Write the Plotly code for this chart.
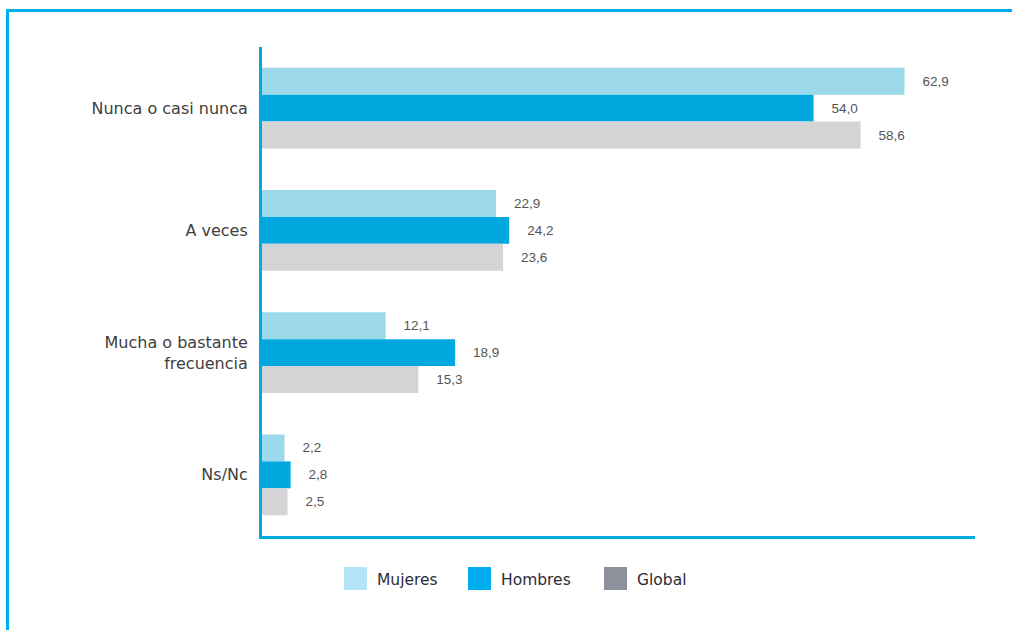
import plotly.graph_objects as go

categorias = ["Nunca o casi nunca", "A veces", "Mucha o bastante<br>frecuencia", "Ns/Nc"]
mujeres = [62.9, 22.9, 12.1, 2.2]
hombres = [54.0, 24.2, 18.9, 2.8]
globales = [58.6, 23.6, 15.3, 2.5]

series = ["Mujeres", "Hombres", "Global"]
colores_barra = ["#9bd8e9", "#00a8df", "#d4d4d6"]
colores_leyenda = ["#b5e3f7", "#00aeef", "#8e919c"]

W, H = 1019, 630
L, R, T, B = 262, 44, 47, 94


def px(x):
    return (x - L) / (W - L - R)


def py(y):
    return (H - B - y) / (H - T - B)


fig = go.Figure()
pad = "\u00a0" * 4
for nombre, valores, color in zip(series, [mujeres, hombres, globales], colores_barra):
    fig.add_trace(go.Bar(
        y=categorias, x=valores, name=nombre, orientation="h",
        marker=dict(color=color, line=dict(width=0)),
        texttemplate=pad + "%{x:.1f}", textposition="outside",
        textfont=dict(family="Arial", size=13.5, color="#555555"),
        cliponaxis=False, showlegend=False,
    ))

# marco azul del recuadro (solo se ven el borde superior e izquierdo)
fig.add_shape(type="line", xref="paper", yref="paper",
              x0=px(6), x1=px(1012), y0=py(10.5), y1=py(10.5),
              line=dict(color="#00aeef", width=3))
fig.add_shape(type="line", xref="paper", yref="paper",
              x0=px(7.5), x1=px(7.5), y0=py(9), y1=py(630),
              line=dict(color="#00aeef", width=3))

# leyenda manual (cuadrados grandes)
leyenda_x = [344, 468, 604]
for nombre, color, x0 in zip(series, colores_leyenda, leyenda_x):
    fig.add_shape(type="rect", xref="paper", yref="paper",
                  x0=px(x0), x1=px(x0 + 23), y0=py(590), y1=py(567),
                  line=dict(width=0), fillcolor=color)
    fig.add_annotation(xref="paper", yref="paper", x=px(x0 + 31), y=py(580),
                       text=nombre, showarrow=False, xanchor="left", yanchor="middle",
                       font=dict(family="DejaVu Sans", size=15.5, color="#2c2c38"))

fig.update_layout(
    width=W, height=H,
    margin=dict(l=L, r=R, t=T, b=B, pad=0),
    paper_bgcolor="white", plot_bgcolor="white",
    barmode="group", bargap=0.34, bargroupgap=0,
    separators=",.",
    font=dict(family="DejaVu Sans", size=15, color="#3c3c3c"),
    xaxis=dict(range=[0, 69.8], showgrid=False, zeroline=False, showticklabels=False,
               showline=True, linecolor="#00a9e0", linewidth=3, ticks=""),
    yaxis=dict(autorange="reversed", showgrid=False, zeroline=False,
               showline=True, linecolor="#00a9e0", linewidth=3, ticks="",
               ticklabelstandoff=8, tickfont=dict(family="DejaVu Sans", size=16, color="#404040")),
)

fig.write_html("out.html", config={"displayModeBar": False},
               post_script="document.body.style.margin='0';document.body.style.overflow='hidden';")
